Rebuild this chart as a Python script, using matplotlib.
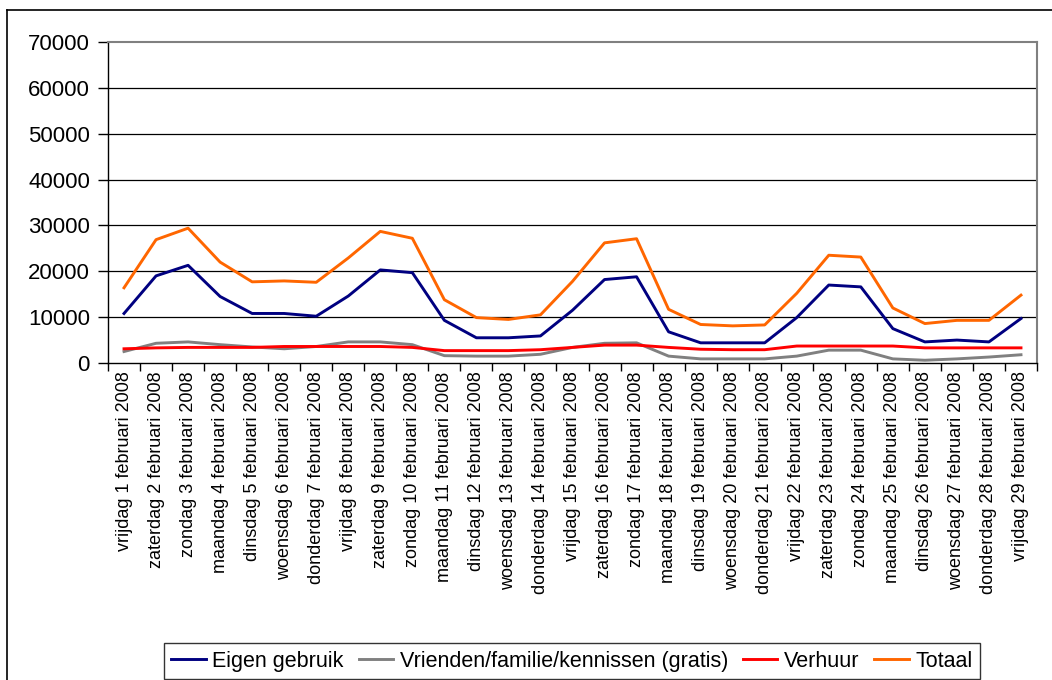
import matplotlib
matplotlib.use('Agg')
import matplotlib.pyplot as plt
import numpy as np
from matplotlib.lines import Line2D

plt.rcParams['font.family'] = ['Liberation Sans', 'DejaVu Sans']

# weekday labels for February 2008
dagen = ['vrijdag', 'zaterdag', 'zondag', 'maandag', 'dinsdag', 'woensdag', 'donderdag']
labels = [f'{dagen[i % 7]} {i + 1} februari 2008' for i in range(29)]

eigen = [10800, 19000, 21300, 14500, 10800, 10800, 10200, 14600, 20300, 19700,
         9300, 5500, 5500, 5900, 11500, 18200, 18800, 6800, 4400, 4400,
         4400, 9900, 17000, 16600, 7500, 4600, 5000, 4600, 9700]
vrienden = [2500, 4300, 4600, 4000, 3500, 3100, 3600, 4600, 4600, 4000,
            1600, 1500, 1500, 1900, 3400, 4300, 4400, 1500, 900, 900,
            900, 1500, 2800, 2800, 900, 600, 900, 1300, 1800]
verhuur = [3100, 3300, 3400, 3400, 3400, 3600, 3600, 3600, 3600, 3400,
           2700, 2700, 2700, 2900, 3400, 3900, 3900, 3400, 3000, 2900,
           2900, 3700, 3700, 3700, 3700, 3300, 3300, 3300, 3300]
totaal = [16400, 26900, 29400, 22000, 17700, 17900, 17600, 22900, 28700, 27200,
          13800, 9900, 9500, 10500, 17800, 26200, 27100, 11700, 8400, 8100,
          8300, 15200, 23500, 23100, 12000, 8600, 9300, 9300, 14800]

series = [('Eigen gebruik', eigen, '#000080'),
          ('Vrienden/familie/kennissen (gratis)', vrienden, '#808080'),
          ('Verhuur', verhuur, '#FF0000'),
          ('Totaal', totaal, '#FF6600')]

W, H = 1052, 680
fig = plt.figure(figsize=(W / 100, H / 100), dpi=100)
ax = fig.add_axes([108 / W, 1 - 363 / H, (1037 - 108) / W, (363 - 42) / H])

x = np.arange(len(labels))
for name, vals, col in series:
    ax.plot(x, vals, color=col, lw=2.1, label=name)

ax.set_xlim(-0.5, len(labels) - 0.5)
ax.set_ylim(0, 70000)
ax.set_yticks(np.arange(0, 70001, 10000))
ax.tick_params(axis='y', labelsize=16, length=7, direction='out', width=1, pad=6)
for yv in range(10000, 70000, 10000):
    ax.axhline(yv, color='black', lw=0.9, zorder=0)

ax.set_xticks(x)
ax.set_xticklabels(labels, rotation=90, fontsize=13)
ax.tick_params(axis='x', length=0, pad=6)
ax.set_xticks(np.arange(-0.5, len(labels), 1), minor=True)
ax.tick_params(axis='x', which='minor', length=6, direction='out', width=1)

for s in ['top', 'right']:
    ax.spines[s].set_color('#808080')
    ax.spines[s].set_linewidth(1.5)
for s in ['left', 'bottom']:
    ax.spines[s].set_color('black')
    ax.spines[s].set_linewidth(1)

leg = fig.legend(loc='lower left', bbox_to_anchor=(153 / W, -10 / H), ncol=4,
                 fontsize=15.5, frameon=True, fancybox=False, edgecolor='black',
                 handlelength=1.6, handletextpad=0.3, columnspacing=0.7,
                 borderpad=0.35)
leg.get_frame().set_linewidth(1)
for h in leg.get_lines():
    h.set_linewidth(2.1)

# outer chart frame
fig.add_artist(Line2D([7 / W, 7 / W], [0, 1 - 10 / H], transform=fig.transFigure,
                      color='black', lw=1.2))
fig.add_artist(Line2D([7 / W, 1], [1 - 10 / H, 1 - 10 / H], transform=fig.transFigure,
                      color='black', lw=1.2))

fig.savefig('out.png', dpi=100)
